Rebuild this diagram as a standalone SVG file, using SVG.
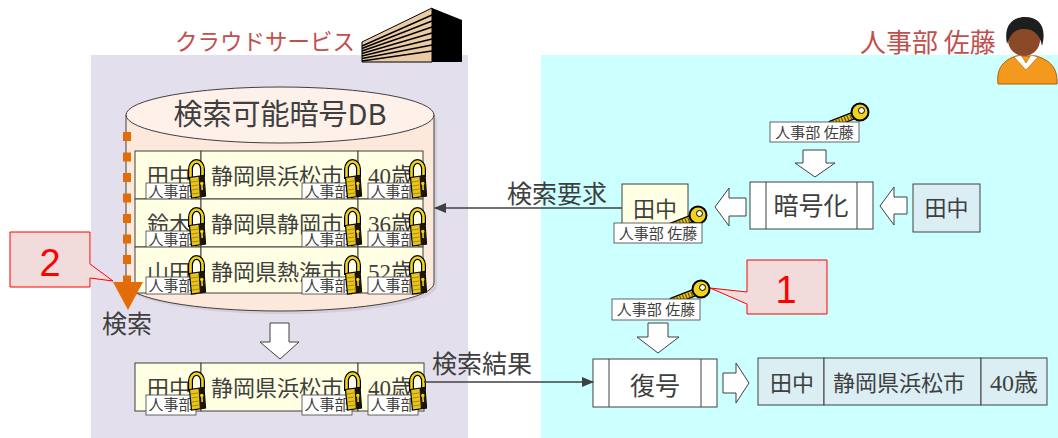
<svg xmlns="http://www.w3.org/2000/svg" width="1058" height="438" viewBox="0 0 1058 438">
<defs>
<style>
.jp{font-family:"Noto Sans CJK JP","Noto Sans",sans-serif;fill:#3f3f3f}
.num{font-family:"Liberation Serif","Noto Sans CJK JP",serif;fill:#3f3f3f}
.cell{fill:#ffffe3;stroke:#404040;stroke-width:1}
.cellb{fill:#dbeef3;stroke:#404040;stroke-width:1}
.tag{fill:#fff;stroke:#404040;stroke-width:0.8}
.tagt{font-family:"Noto Sans CJK JP",sans-serif;font-size:15px;fill:#3f3f3f;text-anchor:middle}
.tagk{font-family:"Noto Sans CJK JP",sans-serif;font-size:15px;fill:#3f3f3f;text-anchor:middle}
.hollow{fill:#fff;stroke:#404040;stroke-width:1}
.conn{stroke:#404040;stroke-width:1.5;fill:none}
.callout{fill:#f2dcdb;stroke:#ff0000;stroke-width:1}
.calloutt{font-family:"Liberation Sans",Arial,sans-serif;font-size:38px;fill:#ff0000;text-anchor:middle}
.title{font-family:"Noto Sans CJK JP",sans-serif;fill:#c0504d}
.mid{text-anchor:middle}
</style>
<marker id="ah" viewBox="0 0 12 10" refX="11" refY="5" markerWidth="12" markerHeight="10" markerUnits="userSpaceOnUse" orient="auto"><path d="M0,0 L12,5 L0,10 Z" fill="#404040"/></marker>
<!-- padlock, about 19x38 -->
<g id="lock">
<path d="M3.5,19 V9 A6,7.5 0 0 1 15.5,9 V17" fill="none" stroke="#000" stroke-width="5"/>
<path d="M3.5,19 V9 A6,7.5 0 0 1 15.5,9 V17" fill="none" stroke="#f2d21b" stroke-width="2.6"/>
<path d="M2.5,17.5 L17,15.5 L18.5,36 L4.5,38 Z" fill="#e8c41c" stroke="#000" stroke-width="1.2"/>
<path d="M11.5,16.3 L17,15.5 L18.5,36 L12.8,36.8 Z" fill="#1a1600"/>
<path d="M4,22 L11,21 M4.3,26 L11.3,25 M4.6,30 L11.6,29 M4.9,34 L11.9,33" stroke="#9a7e00" stroke-width="0.8"/>
<circle cx="14.8" cy="23.5" r="1.7" fill="#f2d21b"/>
<path d="M14.1,24.5 H15.7 L16,30 H14.4 Z" fill="#f2d21b"/>
</g>
<!-- key, 42x26 -->
<g id="key">
<line x1="28" y1="13" x2="5" y2="22" stroke="#000" stroke-width="8" stroke-linecap="round"/>
<line x1="28" y1="13" x2="5" y2="22" stroke="#e8c21a" stroke-width="5.5" stroke-linecap="round"/>
<line x1="27" y1="13.4" x2="6" y2="21.6" stroke="#6b5300" stroke-width="5" stroke-dasharray="1.2 1.8"/>
<circle cx="33" cy="10" r="8.5" fill="#f2d21b" stroke="#000" stroke-width="2"/>
<circle cx="34.5" cy="8.5" r="3" fill="#fffbe0" stroke="#000" stroke-width="1"/>
</g>
</defs>

<!-- backgrounds -->
<rect x="91" y="55" width="377" height="383" fill="#e3dfed"/>
<rect x="541" y="55" width="517" height="383" fill="#ccffff"/>

<!-- cloud side header -->
<g id="cloud-title">
<text class="title" x="175" y="50" font-size="22.5">クラウドサービス</text>
<g id="building">
<polygon points="362,42 432,8 432,62 362,62" fill="#eacba6" stroke="#000" stroke-width="1"/>
<polygon points="432,8 462,20 462,62 432,62" fill="#000"/>
<g stroke="#000" stroke-width="1.4">
<line x1="362" y1="46" x2="432" y2="15"/>
<line x1="362" y1="48.5" x2="432" y2="21"/>
<line x1="362" y1="51" x2="432" y2="27"/>
<line x1="362" y1="53.5" x2="432" y2="33"/>
<line x1="362" y1="56" x2="432" y2="39"/>
<line x1="362" y1="58.5" x2="432" y2="45"/>
<line x1="362" y1="61" x2="432" y2="51"/>
</g>
</g>
</g>

<!-- user side header -->
<g id="user-title">
<text class="title" x="860" y="52" font-size="26">人事部 佐藤</text>
<g id="person">
<path d="M998,84 C996,68 1004,60 1016,56 L1036,56 C1050,60 1058,68 1057,84 Z" fill="#f39a1e" stroke="#b35c00" stroke-width="1"/>
<path d="M1014,57 L1026,70 L1038,57 L1031,55 L1026,63 L1021,55 Z" fill="#fff" stroke="#b35c00" stroke-width="0.6"/>
<circle cx="1024" cy="40" r="16" fill="#8a4a28"/>
<path d="M1007,44 C1003,24 1014,17 1025,17 C1040,17 1047,28 1042,46 C1040,35 1034,29 1024,29 C1014,29 1010,35 1007,44 Z" fill="#1e1e1e"/>
</g>
</g>

<!-- encrypted database -->
<g id="db">
<path d="M129,118 L129,286 A154,28 0 0 0 437,286 L437,118 Z" fill="#c9c3cf" opacity="0.6"/>
<path d="M126,115 L126,283 A154,28 0 0 0 434,283 L434,115 Z" fill="#fde9dc" stroke="#404040" stroke-width="1"/>
<ellipse cx="280" cy="115" rx="154" ry="28" fill="#fdf1ea" stroke="#404040" stroke-width="1"/>
<text class="jp mid" x="280" y="125" font-size="29">検索可能暗号DB</text>
</g>

<g id="row-tanaka">
<rect class="cell" x="135" y="151" width="66" height="48"/>
<rect class="cell" x="201" y="151" width="157" height="48"/>
<rect class="cell" x="358" y="151" width="65" height="48"/>
<text class="jp" x="147" y="184" font-size="22">田中</text>
<text class="jp" x="211" y="184" font-size="22">静岡県浜松市</text>
<text class="num" x="368" y="184" font-size="23">40歳</text>
<rect class="tag" x="146" y="183" width="50" height="17"/><text class="tagt" x="171" y="197">人事部</text>
<rect class="tag" x="302" y="183" width="50" height="17"/><text class="tagt" x="327" y="197">人事部</text>
<rect class="tag" x="368" y="183" width="50" height="17"/><text class="tagt" x="393" y="197">人事部</text>
<use href="#lock" x="187" y="160"/><use href="#lock" x="343" y="160"/><use href="#lock" x="408" y="160"/>
</g>

<g id="row-suzuki">
<rect class="cell" x="135" y="199" width="66" height="48"/>
<rect class="cell" x="201" y="199" width="157" height="48"/>
<rect class="cell" x="358" y="199" width="65" height="48"/>
<text class="jp" x="147" y="232" font-size="22">鈴木</text>
<text class="jp" x="211" y="232" font-size="22">静岡県静岡市</text>
<text class="num" x="368" y="232" font-size="23">36歳</text>
<rect class="tag" x="146" y="231" width="50" height="17"/><text class="tagt" x="171" y="245">人事部</text>
<rect class="tag" x="302" y="231" width="50" height="17"/><text class="tagt" x="327" y="245">人事部</text>
<rect class="tag" x="368" y="231" width="50" height="17"/><text class="tagt" x="393" y="245">人事部</text>
<use href="#lock" x="187" y="208"/><use href="#lock" x="343" y="208"/><use href="#lock" x="408" y="208"/>
</g>

<g id="row-yamada">
<rect class="cell" x="135" y="247" width="66" height="46"/>
<rect class="cell" x="201" y="247" width="157" height="46"/>
<rect class="cell" x="358" y="247" width="65" height="46"/>
<text class="jp" x="147" y="280" font-size="22">山田</text>
<text class="jp" x="211" y="280" font-size="22">静岡県熱海市</text>
<text class="num" x="368" y="280" font-size="23">52歳</text>
<rect class="tag" x="146" y="277" width="50" height="17"/><text class="tagt" x="171" y="291">人事部</text>
<rect class="tag" x="302" y="277" width="50" height="17"/><text class="tagt" x="327" y="291">人事部</text>
<rect class="tag" x="368" y="277" width="50" height="17"/><text class="tagt" x="393" y="291">人事部</text>
<use href="#lock" x="187" y="256"/><use href="#lock" x="343" y="256"/><use href="#lock" x="408" y="256"/>
</g>

<!-- search scan down the table -->
<g id="search">
<line x1="127" y1="132" x2="127" y2="284" stroke="#e36c09" stroke-width="8" stroke-dasharray="9 11.5"/>
<polygon points="113,282 143,282 128,310" fill="#e36c09"/>
<text class="jp" x="102" y="333" font-size="25">検索</text>
</g>

<g id="callout-2">
<path class="callout" d="M10,232 H90 V264 L113,281 L90,278 V287 H10 Z"/>
<text class="calloutt" x="50" y="276">2</text>
</g>

<!-- search result row -->
<g id="row-result-enc">
<rect class="cell" x="135" y="363" width="66" height="48"/>
<rect class="cell" x="201" y="363" width="157" height="48"/>
<rect class="cell" x="358" y="363" width="66" height="48"/>
<text class="jp" x="147" y="396" font-size="22">田中</text>
<text class="jp" x="211" y="396" font-size="22">静岡県浜松市</text>
<text class="num" x="368" y="396" font-size="23">40歳</text>
<rect class="tag" x="146" y="395" width="50" height="20"/><text class="tagt" x="171" y="410">人事部</text>
<rect class="tag" x="302" y="395" width="50" height="20"/><text class="tagt" x="327" y="410">人事部</text>
<rect class="tag" x="368" y="395" width="50" height="20"/><text class="tagt" x="393" y="410">人事部</text>
<use href="#lock" x="187" y="372"/><use href="#lock" x="343" y="372"/><use href="#lock" x="408" y="372"/>
</g>

<!-- user side nodes -->
<g id="key-enc">
<use href="#key" x="827" y="102"/>
<rect class="tag" x="770" y="122" width="89" height="20"/><text class="tagk" x="814.5" y="138">人事部 佐藤</text>
</g>

<g id="encrypt">
<rect class="hollow" x="750" y="182" width="123" height="47"/>
<line x1="766" y1="182" x2="766" y2="229" stroke="#404040"/>
<line x1="857" y1="182" x2="857" y2="229" stroke="#404040"/>
<text class="jp mid" x="811" y="215" font-size="25">暗号化</text>
</g>

<g id="plain-tanaka">
<rect class="cellb" x="913" y="184" width="67" height="48"/>
<text class="jp mid" x="946.5" y="216" font-size="22">田中</text>
</g>

<g id="enc-query">
<rect class="cell" x="622" y="184" width="66" height="45"/>
<text class="jp mid" x="655" y="217" font-size="22">田中</text>
<use href="#key" x="665" y="205"/>
<rect class="tag" x="614" y="223" width="88" height="20"/><text class="tagk" x="658" y="239">人事部 佐藤</text>
</g>

<g id="key-dec">
<use href="#key" x="668" y="279"/>
<rect class="tag" x="612" y="299" width="88" height="21"/><text class="tagk" x="656" y="315">人事部 佐藤</text>
</g>

<g id="callout-1">
<path class="callout" d="M747,260 H827 V314 H747 V304 L710,288 L747,292 Z"/>
<text class="calloutt" x="786" y="303">1</text>
</g>

<g id="decrypt">
<rect class="hollow" x="593" y="359" width="124" height="48"/>
<line x1="609" y1="359" x2="609" y2="407" stroke="#404040"/>
<line x1="701" y1="359" x2="701" y2="407" stroke="#404040"/>
<text class="jp mid" x="655" y="395" font-size="25">復号</text>
</g>

<g id="row-result-plain">
<rect class="cellb" x="758" y="358" width="66" height="47"/>
<rect class="cellb" x="824" y="358" width="157" height="47"/>
<rect class="cellb" x="981" y="358" width="66" height="47"/>
<text class="jp" x="770" y="391" font-size="22">田中</text>
<text class="jp" x="833" y="391" font-size="22">静岡県浜松市</text>
<text class="num" x="990" y="391" font-size="24">40歳</text>
</g>

<!-- connectors -->
<g id="connectors">
<polygon class="hollow" points="270,323 289,323 289,342 299,342 280,359 260,342 270,342"/>
<polygon class="hollow" points="803,150 826,150 826,163 835,163 815,177 795,163 803,163"/>
<polygon class="hollow" points="648,323 668,323 668,337 679,337 658,353 637,337 648,337"/>
<polygon class="hollow" points="907,197 894,197 894,187 880,206 894,225 894,214 907,214"/>
<polygon class="hollow" points="746,198 729,198 729,188 715,207 729,226 729,216 746,216"/>
<polygon class="hollow" points="723,373 736,373 736,363 749,383 736,403 736,393 723,393"/>
<line class="conn" x1="622" y1="208" x2="435" y2="208" marker-end="url(#ah)"/>
<text class="jp" x="507" y="203" font-size="25">検索要求</text>
<line class="conn" x1="424" y1="382" x2="593" y2="382" marker-end="url(#ah)"/>
<text class="jp" x="432" y="373" font-size="25">検索結果</text>
</g>
</svg>
